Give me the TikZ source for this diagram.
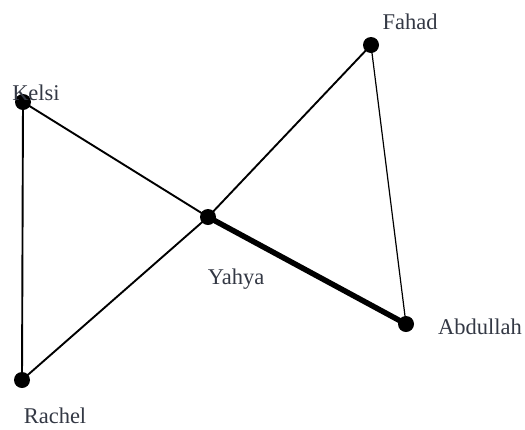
\documentclass[tikz,border=0pt]{standalone}
\usepackage{fontspec}
\setmainfont{Liberation Serif}
\definecolor{lblcol}{HTML}{333844}
\begin{document}
\begin{tikzpicture}[x=1pt,y=-1pt,
  dot/.style={circle,fill=black,inner sep=0pt,minimum size=16pt},
  lbl/.style={text=lblcol,font=\fontsize{22.5}{26}\selectfont,inner sep=0pt},
  edge/.style={line width=1.9pt},
  thinedge/.style={line width=1.2pt},
  thickedge/.style={line width=5.5pt}]
\useasboundingbox (0,0) rectangle (525,429);
\node[dot] (kelsi) at (23,102) {};
\node[dot] (fahad) at (371,45) {};
\node[dot] (yahya) at (208,217) {};
\node[dot] (abd) at (406,324) {};
\node[dot] (rachel) at (22,380) {};
\node[lbl] (tk) at (36,93) {Kelsi};
\node[lbl] (tf) at (410,22) {Fahad};
\node[lbl] (ty) at (236,279) {Yahya};
\node[lbl] (ta) at (480,327) {Abdullah};
\node[lbl] (tr) at (55,416) {Rachel};
\draw[edge] (kelsi.center) -- (yahya.center);
\draw[edge] (kelsi.center) -- (rachel.center);
\draw[edge] (rachel.center) -- (yahya.center);
\draw[edge] (yahya.center) -- (fahad.center);
\draw[thinedge] (fahad.center) -- (abd.center);
\draw[thickedge] (yahya.center) -- (abd.center);
\end{tikzpicture}
\end{document}
